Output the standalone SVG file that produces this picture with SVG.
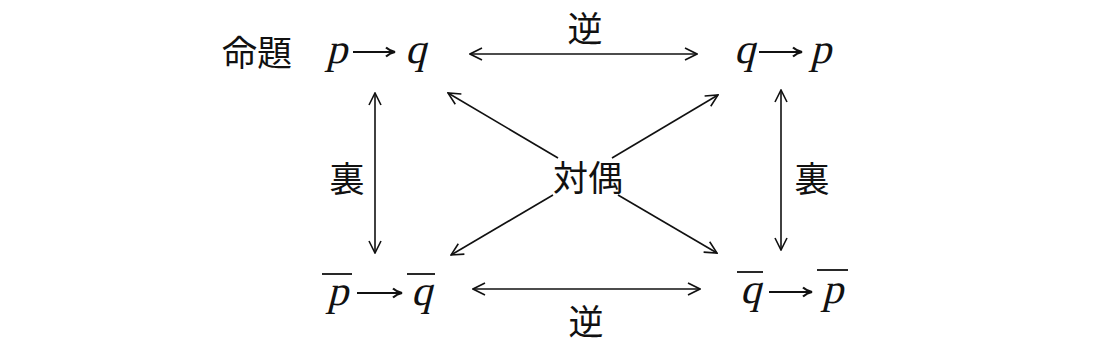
<svg xmlns="http://www.w3.org/2000/svg" width="1112" height="345" viewBox="0 0 1112 345">
<style>
.cjk{font-family:"Noto Sans CJK JP","Noto Sans",sans-serif;font-size:35px;fill:#111;text-anchor:middle;dominant-baseline:central}
.r{font-family:"Liberation Serif",serif;font-style:normal;font-size:42px;fill:#111}
.ln{stroke:#111;stroke-width:1.6;fill:none}
.ar{stroke:#111;stroke-width:1.8;fill:none}
.ov{stroke:#111;stroke-width:1.8}
</style>
<defs>
<marker id="oh" viewBox="0 0 14 14" refX="13" refY="7" markerWidth="14" markerHeight="14" markerUnits="userSpaceOnUse" orient="auto-start-reverse">
<path d="M1,1 L13,7 L1,13" fill="none" stroke="#111" stroke-width="1.6"/>
</marker>
<marker id="sh" viewBox="0 0 12 12" refX="11" refY="6" markerWidth="12" markerHeight="12" markerUnits="userSpaceOnUse" orient="auto">
<path d="M2,1.5 Q6,5 11,6 Q6,7 2,10.5" fill="none" stroke="#111" stroke-width="2.2"/>
</marker>
</defs>
<rect width="1112" height="345" fill="#fff"/>
<g id="label-meidai"><text class="cjk" x="257" y="50">命題</text></g>
<g id="node-pq">
<text class="r" transform="translate(326,63) skewX(-14)">p</text>
<line class="ar" x1="353" y1="52" x2="395" y2="52" marker-end="url(#sh)"/>
<text class="r" transform="translate(405,63) skewX(-14)">q</text>
</g>
<g id="node-qp">
<text class="r" transform="translate(734,63) skewX(-14)">q</text>
<line class="ar" x1="759" y1="52" x2="802" y2="52" marker-end="url(#sh)"/>
<text class="r" transform="translate(810,63) skewX(-14)">p</text>
</g>
<g id="node-npnq">
<line class="ov" x1="322" y1="274" x2="352" y2="274"/>
<text class="r" transform="translate(327,305) skewX(-14)">p</text>
<line class="ar" x1="357" y1="293" x2="402" y2="293" marker-end="url(#sh)"/>
<line class="ov" x1="407" y1="274" x2="435" y2="274"/>
<text class="r" transform="translate(411,305) skewX(-14)">q</text>
</g>
<g id="node-nqnp">
<line class="ov" x1="737" y1="272" x2="763" y2="272"/>
<text class="r" transform="translate(740,303) skewX(-14)">q</text>
<line class="ar" x1="769" y1="292" x2="812" y2="292" marker-end="url(#sh)"/>
<line class="ov" x1="817" y1="270" x2="848" y2="270"/>
<text class="r" transform="translate(822,303) skewX(-14)">p</text>
</g>
<g id="connectors">
<line class="ln" x1="470" y1="54" x2="697" y2="54" marker-start="url(#oh)" marker-end="url(#oh)"/>
<line class="ln" x1="473" y1="289" x2="700" y2="289" marker-start="url(#oh)" marker-end="url(#oh)"/>
<line class="ln" x1="375" y1="93" x2="375" y2="253" marker-start="url(#oh)" marker-end="url(#oh)"/>
<line class="ln" x1="781" y1="90" x2="781" y2="250" marker-start="url(#oh)" marker-end="url(#oh)"/>
<line class="ln" x1="558" y1="158" x2="448" y2="93" marker-end="url(#oh)"/>
<line class="ln" x1="612" y1="158" x2="718" y2="95" marker-end="url(#oh)"/>
<line class="ln" x1="553" y1="195" x2="451" y2="255" marker-end="url(#oh)"/>
<line class="ln" x1="618" y1="195" x2="717" y2="253" marker-end="url(#oh)"/>
</g>
<g id="labels">
<text class="cjk" x="585" y="26">逆</text>
<text class="cjk" x="586" y="319">逆</text>
<text class="cjk" x="347" y="176">裏</text>
<text class="cjk" x="812" y="176">裏</text>
<text class="cjk" x="588" y="175">対偶</text>
</g>
</svg>
